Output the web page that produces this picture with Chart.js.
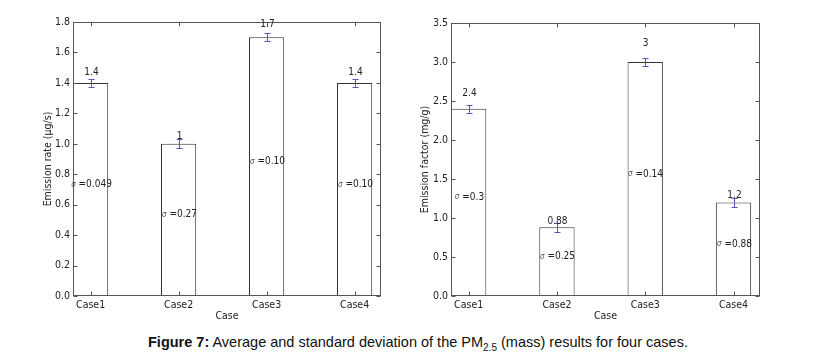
<!DOCTYPE html>
<html>
<head>
<meta charset="utf-8">
<script src="https://cdn.jsdelivr.net/npm/chart.js@4"></script>
<style>
  body { margin: 0; background: #fff; width: 814px; height: 364px; position: relative; overflow: hidden; }
  canvas { position: absolute; top: 0; }
  #left { left: 0; }
  #right { left: 400px; }
  .caption { position: absolute; left: 148px; top: 334px; font-family: 'Liberation Sans', Arial, sans-serif; font-size: 14.5px; color: #111; white-space: nowrap; }
  .caption sub { font-size: 10px; vertical-align: -4px; line-height: 0; }
</style>
</head>
<body>
<canvas id="left" width="400" height="330"></canvas>
<canvas id="right" width="414" height="330"></canvas>
<div class="caption"><b>Figure 7:</b> Average and standard deviation of the PM<sub>2.5</sub> (mass) results for four cases.</div>
<script>
// data
const cases = ['Case1', 'Case2', 'Case3', 'Case4'];

const rateMean = [1.4, 1.0, 1.7, 1.4];
const rateErr = [0.025, 0.03, 0.025, 0.025];
const rateLabels = ['1.4', '1', '1.7', '1.4'];
const rateSigma = ['0.049', '0.27', '0.10', '0.10'];

const factorMean = [2.4, 0.88, 3.0, 1.2];
const factorErr = [0.05, 0.06, 0.05, 0.06];
const factorLabels = ['2.4', '0.88', '3', '1.2'];
const factorSigma = ['0.3', '0.25', '0.14', '0.88'];

const FONT = "'DejaVu Sans Condensed', 'Liberation Sans Narrow', 'DejaVu Sans', sans-serif";

// frame, inward ticks, error bars and text labels
const extrasPlugin = {
  id: 'extras',
  afterDatasetsDraw(chart, args, o) {
    const { ctx, chartArea: a, scales: { x, y } } = chart;
    ctx.save();

    // box
    ctx.strokeStyle = '#555';
    ctx.lineWidth = 1;
    const L = Math.round(a.left) + 0.5, R = Math.round(a.right) - 0.5;
    const T = Math.round(a.top) + 0.5, B = Math.round(a.bottom) - 0.5;
    ctx.strokeRect(L, T, R - L, B - T);

    // inward ticks
    ctx.beginPath();
    y.ticks.forEach(t => {
      const py = Math.round(y.getPixelForValue(t.value)) + 0.5;
      ctx.moveTo(L, py); ctx.lineTo(L + 4, py);
      ctx.moveTo(R, py); ctx.lineTo(R - 4, py);
    });
    x.ticks.forEach(t => {
      const px = Math.round(x.getPixelForValue(t.value)) + 0.5;
      ctx.moveTo(px, B); ctx.lineTo(px, B - 4);
      ctx.moveTo(px, T); ctx.lineTo(px, T + 4);
    });
    ctx.stroke();

    o.mean.forEach((m, i) => {
      const px = Math.round(x.getPixelForValue(i)) + 0.5;

      // error bar
      const y1 = y.getPixelForValue(m + o.err[i]);
      const y2 = y.getPixelForValue(m - o.err[i]);
      ctx.strokeStyle = '#5656c0';
      ctx.beginPath();
      ctx.moveTo(px, y1); ctx.lineTo(px, y2);
      ctx.moveTo(px - 3, Math.round(y1) + 0.5); ctx.lineTo(px + 3, Math.round(y1) + 0.5);
      ctx.moveTo(px - 3, Math.round(y2) + 0.5); ctx.lineTo(px + 3, Math.round(y2) + 0.5);
      ctx.stroke();

      // value label above the bar
      ctx.fillStyle = '#222';
      ctx.font = '10px ' + FONT;
      ctx.textAlign = 'center';
      ctx.textBaseline = 'middle';
      ctx.fillText(o.labels[i], px, y.getPixelForValue(m * o.lift));

      // sigma label at half height
      const sy = y.getPixelForValue(m / 2);
      const s1 = '\u03c3', s2 = ' =' + o.sigma[i];
      ctx.font = 'italic 8px ' + FONT;
      const w1 = ctx.measureText(s1).width;
      ctx.font = '10px ' + FONT;
      const w2 = ctx.measureText(s2).width;
      const x0 = px - (w1 + w2) / 2;
      ctx.textAlign = 'left';
      ctx.textBaseline = 'bottom';
      ctx.font = 'italic 8px ' + FONT;
      ctx.fillStyle = '#555';
      ctx.fillText(s1, x0, sy - 1);
      ctx.font = '10px ' + FONT;
      ctx.fillStyle = '#222';
      ctx.fillText(s2, x0 + w1, sy);
    });
    ctx.restore();
  }
};

function makeChart(id, mean, err, labels, sigma, yMax, yStep, yTitle, lift, pad, yWidth) {
  return new Chart(document.getElementById(id), {
    type: 'bar',
    data: {
      datasets: [{
        data: mean.map((v, i) => ({ x: i, y: v })),
        backgroundColor: '#fff',
        borderColor: '#333',
        borderWidth: 1,
        barPercentage: 0.4,
        categoryPercentage: 1
      }]
    },
    options: {
      responsive: false,
      animation: false,
      devicePixelRatio: 1,
      layout: { padding: pad },
      plugins: {
        legend: { display: false },
        tooltip: { enabled: false },
        extras: { mean, err, labels, sigma, lift }
      },
      scales: {
        x: {
          type: 'linear',
          min: -0.2,
          max: 3.3,
          offset: false,
          grid: { display: false, drawTicks: false },
          border: { display: false },
          afterBuildTicks: s => { s.ticks = cases.map((c, i) => ({ value: i })); },
          afterFit: s => { s.height = 34; },
          ticks: {
            padding: 3,
            autoSkip: false,
            maxRotation: 0,
            color: '#222',
            font: { family: FONT, size: 10.5 },
            callback: v => cases[v]
          },
          title: { display: true, text: 'Case', color: '#222', font: { family: FONT, size: 10.5 }, padding: 7 }
        },
        y: {
          min: 0,
          max: yMax,
          grid: { display: false, drawTicks: false },
          border: { display: false },
          afterFit: s => { s.width = yWidth; },
          ticks: {
            stepSize: yStep,
            padding: 3,
            color: '#222',
            font: { family: FONT, size: 10.5 },
            callback: v => v.toFixed(1)
          },
          title: { display: true, text: yTitle, color: '#222', font: { family: FONT, size: 10.5 }, padding: 4 }
        }
      }
    },
    plugins: [extrasPlugin]
  });
}

makeChart('left', rateMean, rateErr, rateLabels, rateSigma, 1.8, 0.2,
  'Emission rate (\u03bcg/s)', 1.05, { left: 38, right: 19, top: 22, bottom: 0 }, 35);
makeChart('right', factorMean, factorErr, factorLabels, factorSigma, 3.5, 0.5,
  'Emission factor (mg/g)', 1.08, { left: 15, right: 54, top: 23, bottom: 0 }, 36);
</script>
</body>
</html>
